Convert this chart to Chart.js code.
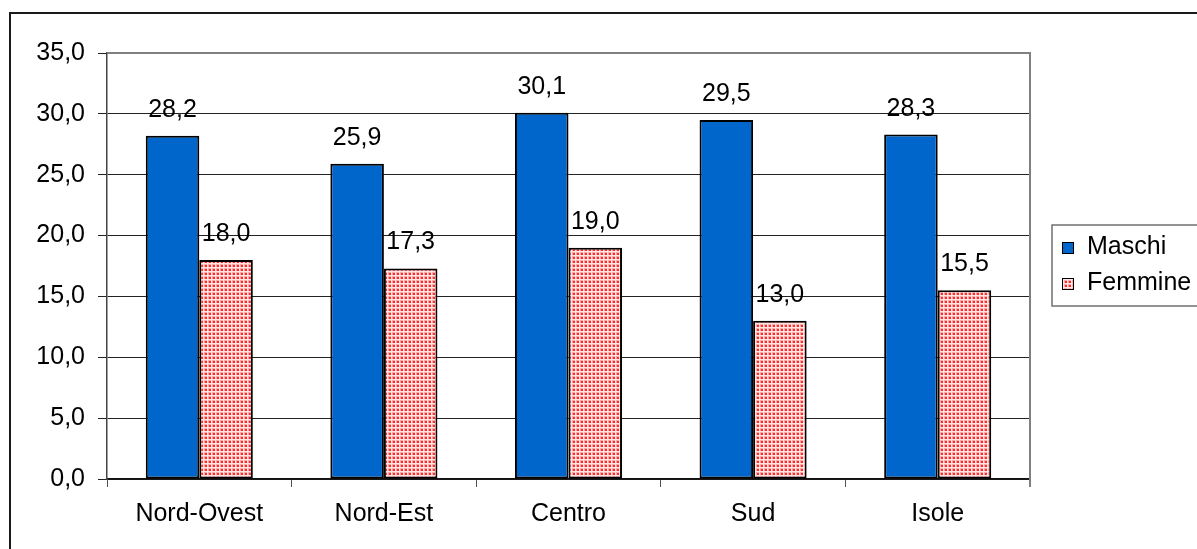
<!DOCTYPE html>
<html>
<head>
<meta charset="utf-8">
<script src="https://cdn.jsdelivr.net/npm/chart.js@4"></script>
<style>
html,body{margin:0;padding:0;background:#fff;}
canvas{display:block;}
</style>
</head>
<body>
<canvas id="c" width="1197" height="549"></canvas>
<script>
const categories = ['Nord-Ovest', 'Nord-Est', 'Centro', 'Sud', 'Isole'];
const seriesNames = ['Maschi', 'Femmine'];
const maschi = [28.2, 25.9, 30.1, 29.5, 28.3];
const femmine = [18.0, 17.3, 19.0, 13.0, 15.5];
const yTicks = [0, 5, 10, 15, 20, 25, 30, 35];

const FONT = "'Liberation Sans', Arial, sans-serif";
const fmt = v => v.toFixed(1).replace('.', ',');

function makePattern() {
  const t = document.createElement('canvas');
  t.width = 4; t.height = 4;
  const g = t.getContext('2d');
  g.fillStyle = '#ffe4e4'; g.fillRect(0, 0, 4, 4);
  g.fillStyle = '#ffa8a8'; g.fillRect(0, 0, 3, 3);
  g.fillStyle = '#ff2a2a'; g.fillRect(1, 1, 2, 2);
  return document.getElementById('c').getContext('2d').createPattern(t, 'repeat');
}
const pinkPattern = makePattern();
const blue = '#0066CC';

const decorPlugin = {
  id: 'decor',
  beforeDraw(chart) {
    const ctx = chart.ctx;
    ctx.save();
    ctx.fillStyle = '#fff';
    ctx.fillRect(0, 0, chart.width, chart.height);
    ctx.restore();
  },
  afterDraw(chart) {
    const ctx = chart.ctx;
    const a = chart.chartArea;
    ctx.save();
    // plot area border (top & right)
    ctx.strokeStyle = '#808080';
    ctx.lineWidth = 2;
    ctx.beginPath();
    ctx.moveTo(a.left, a.top);
    ctx.lineTo(a.right, a.top);
    ctx.lineTo(a.right, a.bottom + 8);
    ctx.stroke();
    // outer border
    ctx.strokeStyle = '#1a1a1a';
    ctx.lineWidth = 2;
    ctx.beginPath();
    ctx.moveTo(10, chart.height + 2);
    ctx.lineTo(10, 13);
    ctx.lineTo(chart.width + 2, 13);
    ctx.stroke();
    // value labels
    ctx.font = '25px ' + FONT;
    ctx.fillStyle = '#000';
    ctx.textAlign = 'center';
    ctx.textBaseline = 'alphabetic';
    chart.data.datasets.forEach((ds, i) => {
      const meta = chart.getDatasetMeta(i);
      meta.data.forEach((el, j) => {
        ctx.fillText(fmt(ds.data[j]), el.x, el.y - 19);
      });
    });
    // legend
    ctx.strokeStyle = '#707070';
    ctx.lineWidth = 1.5;
    ctx.strokeRect(1052, 225, 160, 81);
    ctx.textAlign = 'left';
    const rows = [254, 290];
    chart.data.datasets.forEach((ds, i) => {
      const by = rows[i];
      ctx.fillStyle = ds.backgroundColor;
      ctx.fillRect(1062, by - 12, 11, 11);
      ctx.strokeStyle = '#000';
      ctx.lineWidth = 1;
      ctx.strokeRect(1062.5, by - 11.5, 11, 11);
      ctx.fillStyle = '#000';
      ctx.fillText(ds.label, 1087, by);
    });
    ctx.restore();
  }
};

new Chart(document.getElementById('c'), {
  type: 'bar',
  data: {
    labels: categories,
    datasets: [
      { label: seriesNames[0], data: maschi, backgroundColor: blue, borderColor: '#000', borderWidth: 2, borderSkipped: false },
      { label: seriesNames[1], data: femmine, backgroundColor: pinkPattern, borderColor: '#000', borderWidth: 2, borderSkipped: false }
    ]
  },
  options: {
    responsive: false,
    animation: false,
    devicePixelRatio: 1,
    categoryPercentage: 0.58,
    barPercentage: 1.0,
    layout: { padding: { left: 0, right: 167, top: 53, bottom: 0 } },
    plugins: { legend: { display: false }, tooltip: { enabled: false } },
    scales: {
      x: {
        grid: { drawOnChartArea: false, drawTicks: true, tickLength: 8, color: '#555', offset: true },
        border: { color: '#111', width: 1.5 },
        ticks: { color: '#000', font: { family: FONT, size: 25 }, padding: 12, maxRotation: 0 },
        afterFit(s) { s.height = 70; }
      },
      y: {
        min: 0, max: 35,
        afterBuildTicks(s) { s.ticks = yTicks.map(v => ({ value: v })); },
        grid: { color: '#222', lineWidth: 1, tickLength: 9, tickColor: '#222' },
        border: { color: '#444', width: 1.5 },
        ticks: { color: '#000', font: { family: FONT, size: 25 }, padding: 13, callback: v => fmt(v) },
        afterFit(s) { s.width = 107; }
      }
    }
  },
  plugins: [decorPlugin]
});
</script>
</body>
</html>
